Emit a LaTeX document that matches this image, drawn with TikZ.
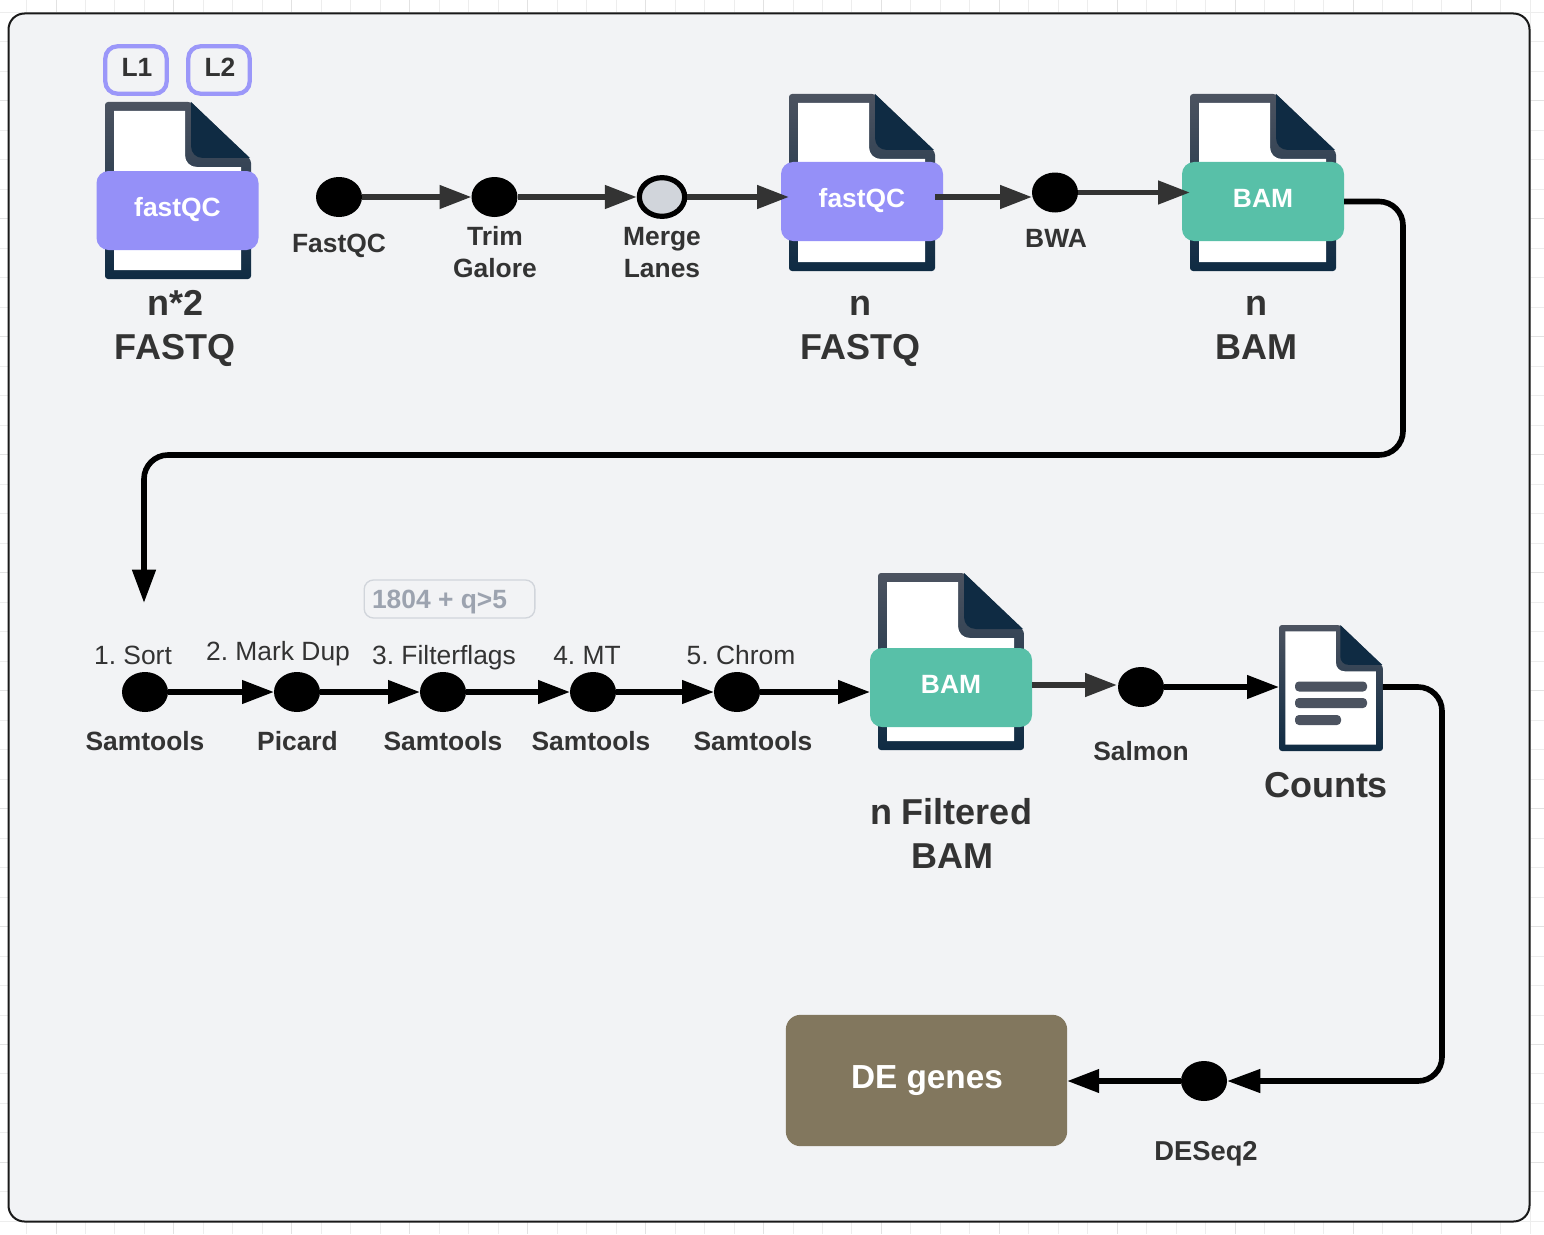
\documentclass[tikz,border=0pt]{standalone}
\usepackage{fontspec}
\setmainfont{Liberation Sans}
\usetikzlibrary{arrows.meta,calc,shapes.geometric}
\definecolor{panelc}{HTML}{F2F3F5}
\definecolor{gridc}{HTML}{EDEDED}
\definecolor{gridd}{HTML}{E2E2E2}
\definecolor{inkc}{HTML}{333333}
\definecolor{purplec}{HTML}{9590F8}
\definecolor{lilacc}{HTML}{9B97F9}
\definecolor{tealc}{HTML}{58C0A8}
\definecolor{brownc}{HTML}{82775E}
\definecolor{slatec}{HTML}{4C5360}
\definecolor{navyc}{HTML}{0F2B43}
\definecolor{notec}{HTML}{9CA3AF}
\definecolor{noteb}{HTML}{D1D5DB}
\newcommand{\fileicon}[4]{% name, left, top, scale
  \begin{scope}[shift={(#2,#3)},scale=#4]
    \shade[top color=slatec,bottom color=navyc,rounded corners=3*0.75pt]
      (0,0) -- (86,0) -- (146,58) -- (146,177) -- (0,177) -- cycle;
    \fill[white] (9,9) -- (80,9) -- (80,53) .. controls (80,60) and (85,65) .. (92,65)
      -- (136,65) -- (136,168) -- (9,168) -- cycle;
    \fill[navyc] (86,0) -- (145,56) -- (98,56) .. controls (91,56) and (86,51) .. (86,44) -- cycle;
    \node[iconframe,minimum width=146*0.75pt*#4,minimum height=177*0.75pt*#4] (#1) at (73,88.5) {};
  \end{scope}}
\tikzset{
  x=0.75pt,y=-0.75pt,
  iconframe/.style={draw=none,inner sep=0pt,outer sep=0pt},
  dot/.style={ellipse,fill=black,draw=none,minimum width=34.5pt,minimum height=30pt,inner sep=0pt,outer sep=0pt},
  mergedot/.style={ellipse,fill=noteb,draw=black,line width=3.9pt,minimum width=34pt,minimum height=29pt,inner sep=0pt,outer sep=1.9pt},
  filebox/.style={rounded corners=9pt,minimum width=121.5pt,minimum height=59.25pt,inner sep=0pt,outer sep=0pt,text=white,text height=14pt,text depth=4.5pt,font=\fontsize{19.8pt}{22pt}\selectfont\bfseries},
  qcbox/.style={filebox,fill=purplec},
  bambox/.style={filebox,fill=tealc},
  lab/.style={inner sep=0pt,outer sep=0pt,text=inkc,text height=14.2pt,text depth=0pt,font=\fontsize{19.8pt}{22pt}\selectfont},
  blab/.style={lab,font=\fontsize{19.8pt}{22pt}\selectfont\bfseries},
  biglab/.style={lab,text height=19.4pt,font=\fontsize{27pt}{30pt}\selectfont\bfseries},
  lanebox/.style={draw=lilacc,line width=3.2pt,rounded corners=9pt,minimum width=46pt,minimum height=35.5pt,inner sep=0pt,outer sep=0pt},
  grayflow/.style={draw=inkc,line width=4.2pt,-{Triangle[length=24pt,width=17pt]}},
  blackflow/.style={draw=black,line width=4pt,-{Triangle[length=24pt,width=17pt]}},
  bigflow/.style={draw=black,line width=4.2pt,rounded corners=18pt,-{Triangle[length=25pt,width=17pt]}},
}
\begin{document}
\frenchspacing
\begin{tikzpicture}
\useasboundingbox (0,0) rectangle (1544,1234);
% page grid
\foreach \k in {0,...,52} {\pgfmathtruncatemacro{\m}{mod(\k,4)}
  \ifnum\m=1 \def\gc{gridd}\else\def\gc{gridc}\fi
  \draw[\gc,line width=.7pt] ({26.5+29.48*\k},0) -- ({26.5+29.48*\k},1234);}
\foreach \k in {0,...,41} {\pgfmathtruncatemacro{\m}{mod(\k,4)}
  \ifnum\m=3 \def\gc{gridd}\else\def\gc{gridc}\fi
  \draw[\gc,line width=.7pt] (0,{12.3+29.49*\k}) -- (1544,{12.3+29.49*\k});}
\node[draw=black!90,fill=panelc,line width=1.5pt,rounded corners=12pt,minimum width=1521*0.75pt,minimum height=1208*0.75pt,inner sep=0pt,outer sep=0pt] (panel) at (769,617.5) {};

% top row icons
\fileicon{f1}{105}{102}{1}
\fileicon{f2}{789}{94}{1}
\fileicon{f3}{1190}{94}{1}
\node[qcbox] (qc1) at (177.5,210.5) {fastQC};
\node[qcbox] (qc2) at (862,201.5) {fastQC};
\node[bambox] (bam1) at (1263,201.5) {BAM};
\node[lanebox] (l1box) at (136,70) {};
\node[lanebox] (l2box) at (219,70) {};
\node[blab] (l1) at (137,67) {L1};
\node[blab] (l2) at (220,67) {L2};

\node[dot] (d1) at (339,197) {};
\node[dot] (d2) at (494.5,197) {};
\node[mergedot] (d3) at (662,197) {};
\node[dot] (d4) at (1055,192.5) {};

\draw[grayflow] (d1.east) -- (d2.west);
\draw[grayflow] (d2.east) -- (d3.west);
\draw[grayflow] (d3.east) -- (f2.west |- d3.east);
\coordinate (q2out) at (935,197);
\coordinate (d4in) at (1032,197);
\draw[grayflow] (q2out) -- (d4in);
\draw[grayflow] (d4.east) -- (f3.west |- d4.east);

\node[blab] (t1) at (339,243) {FastQC};
\node[blab] (t2a) at (495,236) {Trim};
\node[blab] (t2b) at (495,268) {Galore};
\node[blab] (t3a) at (662,236) {Merge};
\node[blab] (t3b) at (662,268) {Lanes};
\node[blab] (t4) at (1056,238) {BWA};
\node[biglab] (c1a) at (176,303) {n*2};
\node[biglab] (c1b) at (175,347) {FASTQ};
\node[biglab] (c2a) at (860,303) {n};
\node[biglab] (c2b) at (860,347) {FASTQ};
\node[biglab] (c3a) at (1256,303) {n};
\node[biglab] (c3b) at (1256,347) {BAM};

% second row
\node[dot] (s1) at (145,692) {};
\node[dot] (s2) at (297,692) {};
\node[dot] (s3) at (443,692) {};
\node[dot] (s4) at (593,692) {};
\node[dot] (s5) at (737,692) {};
\coordinate (sorttip) at (144,603);
\draw[bigflow] (bam1.east) -- (1403,201.5) -- (1403,455) -- (144,455) -- (sorttip);

\fileicon{f4}{878}{573}{1}
\fileicon{f5}{1279}{625}{0.712}
\node[bambox] (bam2) at (951,687.5) {BAM};
\foreach \yy in {686.5,703} {\fill[slatec,rounded corners=3pt] (1295,\yy-5) rectangle (1367,\yy+5);}
\fill[slatec,rounded corners=3pt] (1295,715) rectangle (1341,725);

\draw[blackflow] (s1.east) -- (s2.west);
\draw[blackflow] (s2.east) -- (s3.west);
\draw[blackflow] (s3.east) -- (s4.west);
\draw[blackflow] (s4.east) -- (s5.west);
\draw[blackflow] (s5.east) -- (bam2.west |- s5.east);

\node[dot] (sal) at (1141,687) {};
\coordinate (b2out) at (1032,685);
\coordinate (salin) at (1117,685);
\draw[grayflow] (b2out) -- (salin);
\draw[blackflow] (sal.east) -- (f5.west |- sal.east);

\node[lab] (n1) at (133,655) {1. Sort};
\node[lab] (n2) at (278,651) {2. Mark Dup};
\node[lab] (n3) at (444,655) {3. Filterflags};
\node[lab] (n4) at (587,655) {4. MT};
\node[lab] (n5) at (741,655) {5. Chrom};
\node[blab] (u1) at (145,741) {Samtools};
\node[blab] (u2) at (297.5,741) {Picard};
\node[blab] (u3) at (443,741) {Samtools};
\node[blab] (u4) at (591,741) {Samtools};
\node[blab] (u5) at (753,741) {Samtools};
\node[blab] (u6) at (1141,751) {Salmon};
\node[biglab] (cn) at (1326,785) {Counts};
\node[biglab] (c4a) at (951,812) {n Filtered};
\node[biglab] (c4b) at (952,856) {BAM};

\node[draw=noteb,line width=1pt,rounded corners=7pt,minimum width=128pt,minimum height=28.5pt,inner sep=0pt,outer sep=0pt] (notebox) at (449.5,599) {};
\node[blab,text=notec,anchor=west] (note) at (372,599) {1804 + q>5};

% third part
\node[dot] (de) at (1204,1081) {};
\node[fill=brownc,rounded corners=11pt,minimum width=211pt,minimum height=98.5pt,inner sep=0pt,outer sep=0pt] (genes) at (926.5,1080.5) {};
\node[inner sep=0pt,text=white,text height=17.9pt,text depth=0pt,font=\fontsize{25pt}{28pt}\selectfont\bfseries] (genest) at (927,1077) {DE genes};
\draw[bigflow] (f5.east |- sal.east) -- (1442,687) -- (1442,1081) -- (de.east);
\draw[blackflow] (de.west) -- (genes.east |- de.west);
\node[blab,font=\fontsize{20.5pt}{22pt}\selectfont\bfseries] (u7) at (1206,1151) {DESeq2};
\end{tikzpicture}
\end{document}
